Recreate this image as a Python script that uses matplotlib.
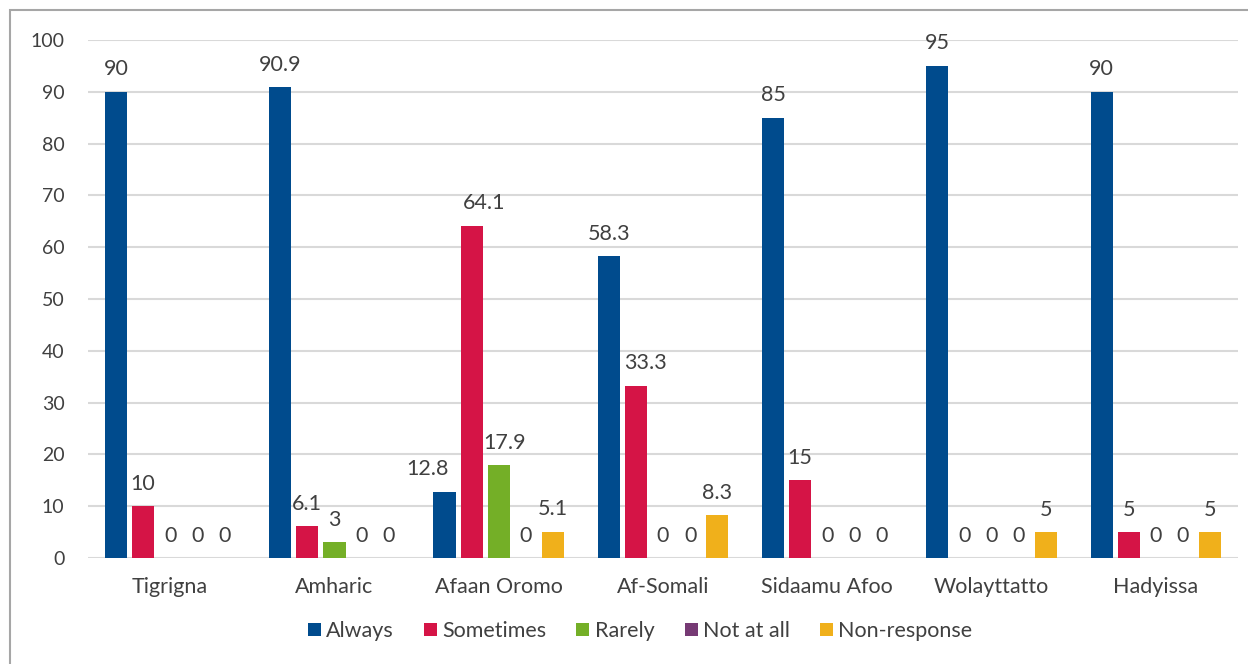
import matplotlib
matplotlib.use("Agg")
import matplotlib.pyplot as plt
import numpy as np
from matplotlib.patches import Rectangle

languages = ["Tigrigna", "Amharic", "Afaan Oromo", "Af-Somali",
             "Sidaamu Afoo", "Wolayttatto", "Hadyissa"]
always = [90, 90.9, 12.8, 58.3, 85, 95, 90]
sometimes = [10, 6.1, 64.1, 33.3, 15, 0, 5]
rarely = [0, 3, 17.9, 0, 0, 0, 0]
not_at_all = [0, 0, 0, 0, 0, 0, 0]
non_response = [0, 0, 5.1, 8.3, 0, 5, 5]

series_names = ["Always", "Sometimes", "Rarely", "Not at all", "Non-response"]
series_values = [always, sometimes, rarely, not_at_all, non_response]
colors = ["#004B8D", "#D51446", "#74AF27", "#763A74", "#F0B01B"]
yticks = list(range(0, 101, 10))

# sideways shifts (points) for value labels that would collide with a neighbouring bar
label_nudge = {
    ("Always", "Afaan Oromo"): -12,
    ("Sometimes", "Afaan Oromo"): 9,
    ("Rarely", "Afaan Oromo"): 4,
    ("Sometimes", "Af-Somali"): 7,
}

text_color = "#404040"
plt.rcParams["font.family"] = ["Lato", "DejaVu Sans"]

fig = plt.figure(figsize=(12.48, 6.64), dpi=100)
W, H = 1248, 664
ax = fig.add_axes([88 / W, 1 - 558 / H, (1238 - 88) / W, (558 - 40) / H])

x = np.arange(len(languages))
slot = 0.165
bar_w = 0.135
for i, (name, vals, col) in enumerate(zip(series_names, series_values, colors)):
    pos = x + (i - 2) * slot
    bars = ax.bar(pos, vals, width=bar_w, color=col, label=name, zorder=3)
    for lang, b, v in zip(languages, bars, vals):
        dx = label_nudge.get((name, lang), 0)
        ax.annotate(f"{v:g}", (b.get_x() + b.get_width() / 2, v),
                    xytext=(dx, 9), textcoords="offset points",
                    ha="center", va="bottom", fontsize=15.5, color=text_color)

ax.set_xlim(-0.5, len(languages) - 0.5)
ax.set_ylim(0, 100)
ax.set_yticks(yticks)
ax.set_xticks(x)
ax.set_xticklabels(languages)
ax.tick_params(axis="both", length=0, labelcolor=text_color)
ax.tick_params(axis="y", pad=17, labelsize=14)
ax.tick_params(axis="x", pad=14, labelsize=15.5)
ax.grid(axis="y", color="#D9D9D9", linewidth=1.5, zorder=0)
for s in ax.spines.values():
    s.set_visible(False)

leg = fig.legend(loc="center", bbox_to_anchor=(640 / W, 1 - 631 / H), ncol=5,
                 frameon=False, fontsize=15.5, handlelength=0.6, handleheight=0.6,
                 handletextpad=0.25, columnspacing=1.4)
for t in leg.get_texts():
    t.set_color(text_color)

# outer chart frame
fig.patches.append(Rectangle((10 / W, -0.05), 1.1, 1 - 10 / H + 0.05,
                             transform=fig.transFigure, fill=False,
                             edgecolor="#A6A6A6", linewidth=1.5))

fig.savefig("out.png", dpi=100, facecolor="white")
